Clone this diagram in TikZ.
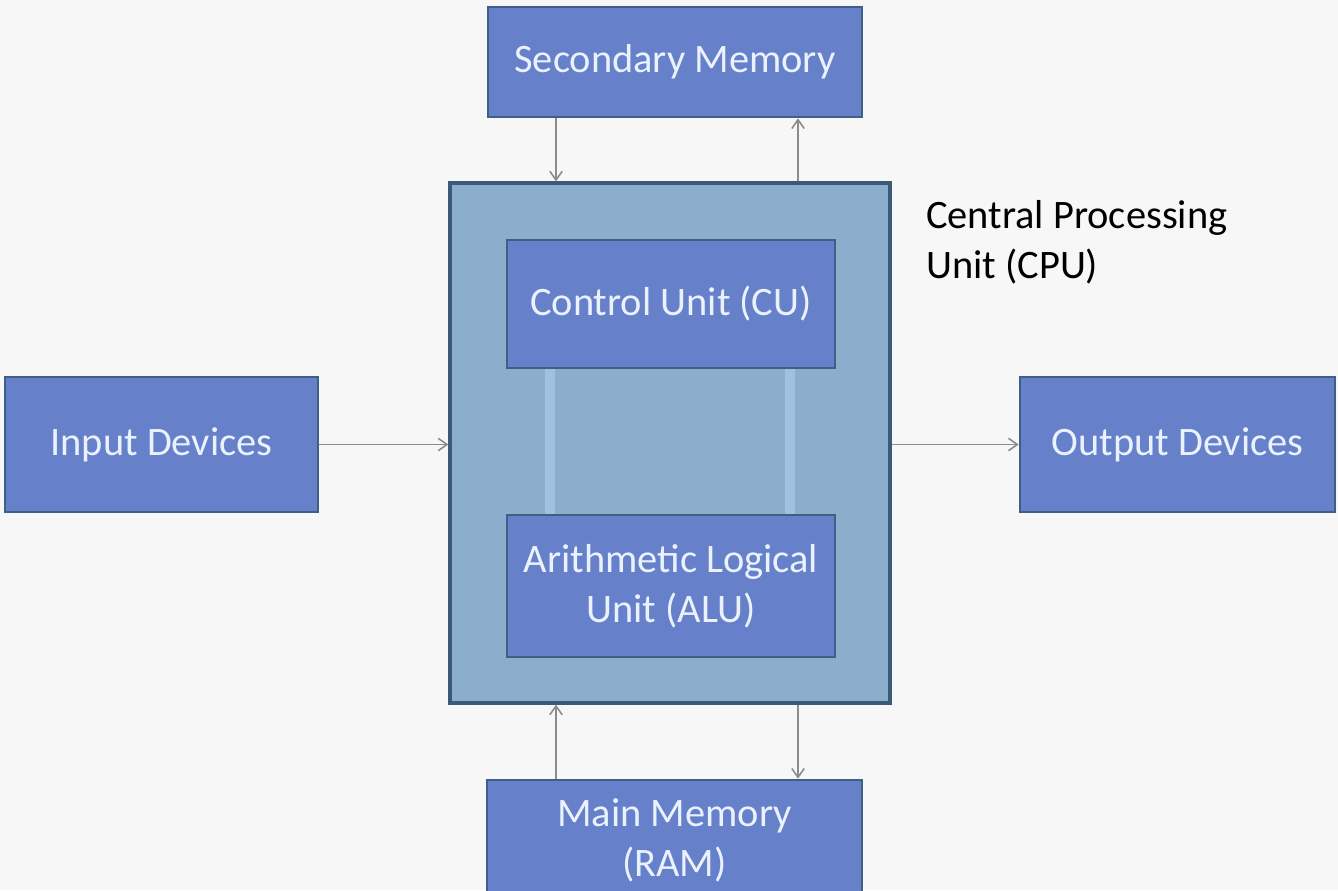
\documentclass[tikz,border=0pt]{standalone}
\usepackage{fontspec}
\setmainfont{Carlito}
\usepackage{tikz}
\usetikzlibrary{arrows.meta, positioning}

\definecolor{pagebg}{HTML}{F7F7F7}
\definecolor{boxfill}{HTML}{6680CA}
\definecolor{boxedge}{HTML}{3E5F86}
\definecolor{cpufill}{HTML}{8AAECC}
\definecolor{cpuedge}{HTML}{3C5A78}
\definecolor{barcol}{HTML}{A0C2DE}
\definecolor{arrcol}{HTML}{8C8C8C}
\definecolor{boxtext}{HTML}{EAF2FF}

\tikzset{
  unit/.style={draw=boxedge, line width=1.5pt, fill=boxfill, text=boxtext,
    align=center, font=\fontsize{23}{28.5}\selectfont},
  flow/.style={draw=arrcol, line width=0.9pt, -{Straight Barb[length=5pt,width=7pt]}},
}

\begin{document}
\begin{tikzpicture}
\useasboundingbox[fill=pagebg] (0,0) rectangle (26.76,-17.8);
% CPU and its parts
\node[draw=cpuedge, line width=1.8pt, fill=cpufill, minimum width=8.8cm, minimum height=10.4cm] (cpu) at (13.4,-8.86) {};
\node[unit, minimum width=6.56cm, minimum height=2.56cm] (cu) at (13.42,-6.08) {Control Unit (CU)};
\node[unit, minimum width=6.56cm, minimum height=2.84cm] (alu) at (13.42,-11.72) {Arithmetic Logical\\Unit (ALU)};
\node[anchor=west, align=left, font=\fontsize{23}{28.5}\selectfont] (cpulbl) at (18.4,-4.84) {Central Processing\\Unit (CPU)};

% outer units
\node[unit, minimum width=7.48cm, minimum height=2.2cm] (sec) at (13.5,-1.24) {Secondary Memory};
\node[unit, minimum width=7.5cm, minimum height=2.4cm] (ram) at (13.49,-16.8) {Main Memory\\(RAM)};
\node[unit, minimum width=6.26cm, minimum height=2.7cm] (in) at (3.23,-8.89) {Input Devices};
\node[unit, minimum width=6.3cm, minimum height=2.7cm] (out) at (23.55,-8.89) {Output Devices};

\coordinate (lx) at (11.12,0);
\coordinate (rx) at (15.96,0);
\coordinate (blx) at (11.0,0);
\coordinate (brx) at (15.8,0);

% links between CU and ALU
\draw[barcol, line width=6pt] (cu.south -| blx) -- (alu.north -| blx);
\draw[barcol, line width=6pt] (cu.south -| brx) -- (alu.north -| brx);

\draw[flow] (in.east) -- (cpu.west |- in.east);
\draw[flow] (cpu.east |- out.west) -- (out.west);
\draw[flow] (sec.south -| lx) -- (cpu.north -| lx);
\draw[flow] (cpu.north -| rx) -- (sec.south -| rx);
\draw[flow] (ram.north -| lx) -- (cpu.south -| lx);
\draw[flow] (cpu.south -| rx) -- (ram.north -| rx);
\end{tikzpicture}
\end{document}
